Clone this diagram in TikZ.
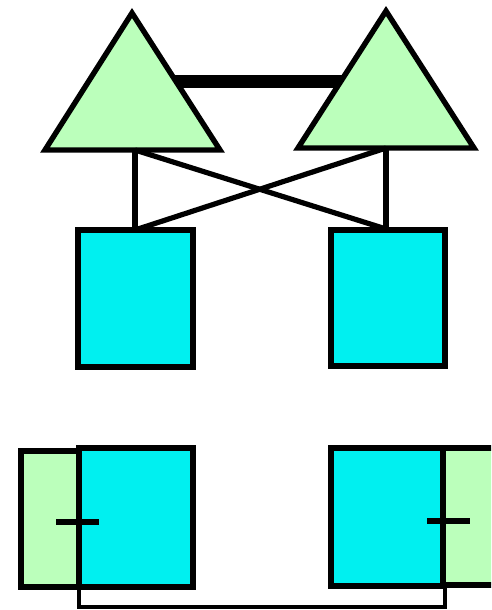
\documentclass[tikz,border=0pt]{standalone}
\begin{document}
\begin{tikzpicture}[x=1pt,y=-1pt,line join=miter,
  shp/.style={draw=black,line width=5.4pt},
  grn/.style={shp,fill={rgb,255:red,187;green,255;blue,187}},
  cyn/.style={shp,fill={rgb,255:red,0;green,240;blue,240}},
  boxnode/.style={shp,inner sep=0pt,outer sep=0pt},
  link/.style={draw=black,line width=5.2pt}]
\useasboundingbox (0,0) rectangle (491,610);
\clip (0,0) rectangle (491,610);
% top triangles
\coordinate (t1a) at (132,13);
\coordinate (t1l) at (45,150);
\coordinate (t1r) at (220,150);
\coordinate (t2a) at (386,11);
\coordinate (t2l) at (298,148);
\coordinate (t2r) at (474,148);
\coordinate (t1b) at (135,150);
\coordinate (t2b) at (386,148);
% thick bar
\coordinate (bar1) at (175,81);
\coordinate (bar2) at (342,81);
\draw[link,line width=13pt] (bar1) -- (bar2);
\filldraw[grn] (t1a) -- (t1l) -- (t1r) -- cycle;
\filldraw[grn] (t2a) -- (t2l) -- (t2r) -- cycle;
% top boxes
\node[boxnode,cyn,minimum width=115,minimum height=137] (b1) at (135.5,298.5) {};
\node[boxnode,cyn,minimum width=114,minimum height=136] (b2) at (388,298) {};
\coordinate (b1t) at (135,230);
\coordinate (b2t) at (386,229);
\draw[link] (t1b) -- (b1t);
\draw[link] (t2b) -- (b2t);
\draw[link] (t1b) -- (b2t);
\draw[link] (t2b) -- (b1t);
% bottom left
\node[boxnode,grn,minimum width=58,minimum height=136] (g3) at (50,519) {};
\node[boxnode,cyn,minimum width=114,minimum height=139] (c3) at (136,517.5) {};
\coordinate (k3a) at (56,522);
\coordinate (k3b) at (99,522);
\draw[link,line width=6.5pt] (k3a) -- (k3b);
% bottom right
\node[boxnode,cyn,minimum width=112,minimum height=138] (c4) at (387,517) {};
\node[boxnode,grn,minimum width=80,minimum height=137] (g4) at (483,516.5) {};
\coordinate (k4a) at (427,521);
\coordinate (k4b) at (470,521);
\draw[link,line width=6.5pt] (k4a) -- (k4b);
% bottom connector
\coordinate (l1) at (79,587);
\coordinate (l2) at (79,607);
\coordinate (l3) at (445,607);
\coordinate (l4) at (445,586);
\draw[link,line width=4.5pt] (l1) -- (l2) -- (l3) -- (l4);
\end{tikzpicture}
\end{document}
